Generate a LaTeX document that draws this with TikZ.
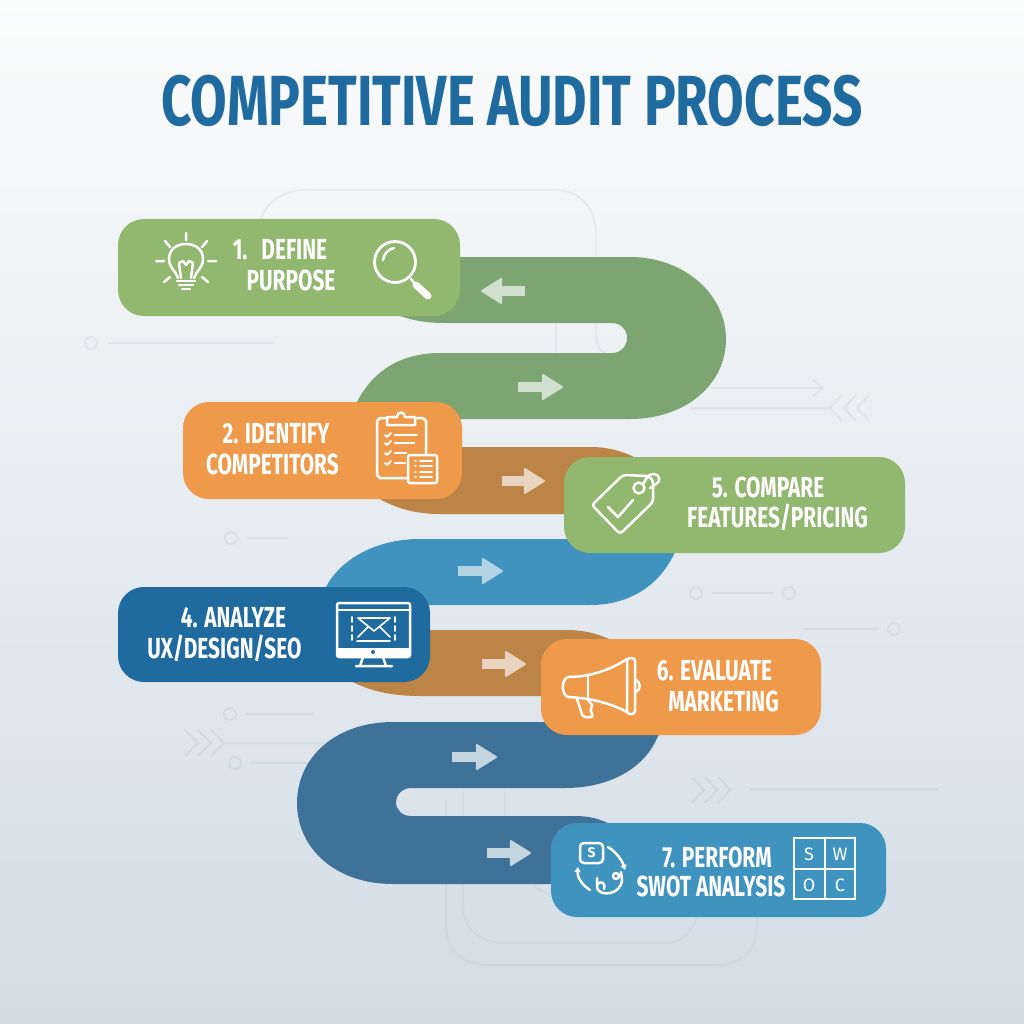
\documentclass[tikz,border=0pt]{standalone}
\usepackage{fontspec}
\usetikzlibrary{arrows.meta}
\setmainfont{Fira Sans}
\newfontfamily\titlefont[FakeStretch=0.747]{Fira Sans}
\newfontfamily\labelfont[FakeStretch=0.72]{Fira Sans}
\definecolor{boxgreen}{HTML}{92B76F}
\definecolor{boxorange}{HTML}{EE9A4A}
\definecolor{boxnavy}{HTML}{1F6A9E}
\definecolor{boxblue}{HTML}{3F93BF}
\definecolor{bandgreen}{HTML}{7DA572}
\definecolor{bandbrown}{HTML}{BC8447}
\definecolor{bandblue}{HTML}{3F93BE}
\definecolor{bandnavy}{HTML}{3F7299}
\definecolor{faintline}{HTML}{1F3F60}
\definecolor{skytop}{HTML}{FBFCFC}
\definecolor{skymid}{HTML}{E8EDF2}
\definecolor{skylow}{HTML}{D2DCE5}
\edef\cornersize{26pt}
\tikzstyle{stepbox}=[rounded corners=\cornersize,inner sep=0pt]
\tikzstyle{stepline}=[text=white,inner sep=0pt,font=\labelfont\bfseries\fontsize{29}{29}\selectfont]
\tikzstyle{gridletter}=[text=white,inner sep=0pt,font=\fontsize{18}{18}\selectfont]
\tikzstyle{glyph}=[draw=white,line width=2.5pt,line cap=round,line join=round]
\tikzstyle{bandarrow}=[line width=9.5pt,-{Triangle[length=22pt,width=27pt,round,line width=2pt]}]
\tikzstyle{faint}=[draw=faintline,draw opacity=0.06,line width=2pt]
\begin{document}
\begin{tikzpicture}[x=1pt,y=-1pt]
	\useasboundingbox (0,0) rectangle (1024,1024);
	\shade[top color=skytop,middle color=skymid,bottom color=skylow] (0,0) rectangle (1024,1024);

	% faint background marks
	\draw[faint] (259,232) .. controls (259,208) and (278,190) .. (305,190) -- (555,190) .. controls (580,190) and (596,208) .. (596,235) -- (596,335) .. controls (596,345) and (600,352) .. (606,353);
	\draw[faint] (556,323) -- (556,353);
	\draw[faint,draw opacity=0.04] (446,800) -- (446,925) .. controls (446,950) and (462,965) .. (488,965) -- (715,965) .. controls (742,965) and (757,950) .. (757,925) -- (757,915);
	\draw[faint,draw opacity=0.04] (463,790) -- (463,905) .. controls (463,930) and (480,943) .. (505,943) -- (665,943) .. controls (682,943) and (692,932) .. (697,917);
	\draw[faint,draw opacity=0.04] (505,790) -- (505,816);
	\draw[faint,draw opacity=0.04] (533,885) .. controls (538,890) and (544,893) .. (551,893);
	\draw[faint] (91,343) circle (6);
	\draw[faint] (108,343) -- (274,343);
	\draw[faint] (710,388) -- (822,388) (813,380) -- (823,388) -- (813,396);
	\draw[faint] (690,408) -- (830,408) (842,395) -- (830,408) -- (842,421) (856,395) -- (844,408) -- (856,421) (869,395) -- (857,408) -- (869,421);
	\draw[faint] (231,538) circle (6);
	\draw[faint] (247,538) -- (288,538);
	\draw[faint] (696,593) circle (6);
	\draw[faint] (712,593) -- (773,593);
	\draw[faint] (789,593) circle (6);
	\draw[faint] (803,629) -- (878,629);
	\draw[faint] (894,629) circle (6);
	\draw[faint] (230,714) circle (6);
	\draw[faint] (245,714) -- (313,714);
	\draw[faint] (185,730) -- (198,743) -- (185,756) (198,730) -- (211,743) -- (198,756) (211,730) -- (224,743) -- (211,756) (224,743) -- (330,743);
	\draw[faint] (235,763) circle (6);
	\draw[faint] (250,763) -- (310,763);
	\draw[faint] (692,777) -- (704,790) -- (692,803) (705,777) -- (717,790) -- (705,803) (718,777) -- (730,790) -- (718,803);
	\draw[faint] (750,789) -- (938,789);

	% bands
	\fill[bandgreen] (440,257) -- (630,257) .. controls (685,257) and (726,295) .. (726,339) .. controls (726,385) and (685,419) .. (630,419) -- (400,419) -- (357,402) .. controls (372,372) and (400,353) .. (440,353) -- (612,353) .. controls (621,353) and (627,346) .. (627,338) .. controls (627,330) and (621,323) .. (612,323) -- (445,323) .. controls (425,323) and (410,320) .. (395,314) -- (395,257) -- cycle;
	\fill[bandbrown] (400,447) -- (590,447) .. controls (610,447) and (625,452) .. (640,460) -- (640,514) -- (440,514) .. controls (415,514) and (395,508) .. (378,498) -- (378,447) -- cycle;
	\fill[bandblue] (420,539) -- (620,539) -- (680,545) -- (675,552) .. controls (660,585) and (630,605) .. (590,605) -- (380,605) -- (380,587) -- (326,587) .. controls (340,560) and (375,539) .. (420,539) -- cycle;
	\fill[bandbrown] (400,630) -- (565,630) .. controls (585,630) and (600,634) .. (615,642) -- (615,696) -- (420,696) .. controls (395,696) and (372,692) .. (353,682) -- (353,630) -- cycle;
	\fill[bandnavy] (393,722) -- (600,722) -- (665,730) -- (658,736) .. controls (645,768) and (610,788) .. (565,788) -- (411,788) .. controls (402,788) and (396,795) .. (396,802) .. controls (396,810) and (402,816) .. (411,816) -- (575,816) .. controls (590,816) and (600,819) .. (612,825) -- (612,884) -- (393,884) .. controls (335,884) and (297,848) .. (297,803) .. controls (297,758) and (335,722) .. (393,722) -- cycle;

	% arrows on the bands
	\coordinate (back1) at (525,291); \coordinate (tip1) at (481,291);
	\coordinate (back2) at (518,387); \coordinate (tip2) at (563,387);
	\coordinate (back3) at (502,481); \coordinate (tip3) at (545,481);
	\coordinate (back4) at (458,571); \coordinate (tip4) at (503,571);
	\coordinate (back5) at (482,664); \coordinate (tip5) at (526,664);
	\coordinate (back6) at (452,757); \coordinate (tip6) at (497,757);
	\coordinate (back7) at (487,853); \coordinate (tip7) at (531,853);
	\draw[bandarrow,color=white!65!bandgreen] (back1) -- (tip1);
	\draw[bandarrow,color=white!65!bandgreen] (back2) -- (tip2);
	\draw[bandarrow,color=white!65!bandbrown] (back3) -- (tip3);
	\draw[bandarrow,color=white!60!bandblue] (back4) -- (tip4);
	\draw[bandarrow,color=white!65!bandbrown] (back5) -- (tip5);
	\draw[bandarrow,color=white!70!bandnavy] (back6) -- (tip6);
	\draw[bandarrow,color=white!70!bandnavy] (back7) -- (tip7);

	% step boxes
	\node[stepbox,fill=boxgreen,minimum width=342pt,minimum height=97pt] (purpose) at (289,267.5) {};
	\node[stepbox,fill=boxorange,minimum width=279pt,minimum height=97pt] (rivals) at (322.5,450.5) {};
	\node[stepbox,fill=boxgreen,minimum width=341pt,minimum height=96pt] (pricing) at (734.5,505) {};
	\node[stepbox,fill=boxnavy,minimum width=312pt,minimum height=95pt] (design) at (274,634.5) {};
	\node[stepbox,fill=boxorange,minimum width=280pt,minimum height=96pt] (marketing) at (681,687) {};
	\node[stepbox,fill=boxblue,minimum width=335pt,minimum height=94pt] (swot) at (718.5,870) {};

	% texts
	\node[stepline] (purposea) at (280,250) {1.\hspace{14pt}DEFINE};
	\node[stepline] (purposeb) at (291,280) {PURPOSE};
	\node[stepline] (rivalsa) at (276,434) {2. IDENTIFY};
	\node[stepline] (rivalsb) at (272.5,464) {COMPETITORS};
	\node[stepline] (pricinga) at (768,487) {5. COMPARE};
	\node[stepline] (pricingb) at (777.5,517) {FEATURES/PRICING};
	\node[stepline] (designa) at (233.5,618) {4. ANALYZE};
	\node[stepline] (designb) at (224.5,648) {UX/DESIGN/SEO};
	\node[stepline] (marketinga) at (714.5,671) {6. EVALUATE};
	\node[stepline] (marketingb) at (723.5,701) {MARKETING};
	\node[stepline] (swota) at (717,857) {7. PERFORM};
	\node[stepline] (swotb) at (711,886) {SWOT ANALYSIS};
	\node[text=boxnavy,inner sep=0pt,font=\titlefont\bfseries\fontsize{71}{71}\selectfont] (title) at (512,101) {COMPETITIVE AUDIT PROCESS};

	% bulb
	\begin{scope}[shift={(186,261)}]
		\draw[glyph] (-8,17) .. controls (-10,10) and (-17,7) .. (-17,-2) .. controls (-17,-12) and (-9,-17) .. (0,-17) .. controls (9,-17) and (17,-12) .. (17,-2) .. controls (17,7) and (10,10) .. (8,17);
		\draw[glyph] (-5,17) -- (-7,2) -- (-3,0) -- (0,4) -- (3,0) -- (7,2) -- (5,17);
		\draw[glyph] (-9,20) -- (9,20) (-7,24) -- (7,24) (-4,28) -- (4,28);
		\draw[glyph] (0,-28) -- (0,-21) (-30,0) -- (-22,0) (22,0) -- (30,0) (-21,-20) -- (-16,-14) (21,-20) -- (16,-14) (-22,21) -- (-16,16) (22,21) -- (16,16);
	\end{scope}

	% magnifier
	\draw[glyph,line width=2.8pt] (395,262) circle (20.5);
	\draw[glyph] (383,260) .. controls (384,254) and (388,249) .. (394,248);
	\draw[glyph] (411,279) -- (415,284);
	\draw[glyph,line width=7pt] (416,285) -- (428,296);

	% clipboard
	\draw[glyph] (387,418) -- (380,418) -- (377,421) -- (377,475) -- (380,478) -- (408,478);
	\draw[glyph] (415,418) -- (423,418) -- (426,421) -- (426,455);
	\draw[glyph] (387,425) -- (415,425) -- (415,417) -- (405,417) .. controls (405,411) and (397,411) .. (397,417) -- (387,417) -- cycle;
	\draw[glyph,line width=1.8pt] (385,435) -- (387,437) -- (391,433) (385,443) -- (387,445) -- (391,441) (385,453) -- (387,455) -- (391,451) (385,463) -- (387,465) -- (391,461);
	\draw[glyph] (395,435) -- (417,435) (395,443) -- (414,443) (395,453) -- (406,453) (395,463) -- (405,463);
	\draw[glyph,fill=boxorange,rounded corners=2pt] (408,455) rectangle (437,483);
	\draw[glyph,line width=1.8pt] (415,461) -- (416,461) (420,461) -- (432,461) (415,466) -- (416,466) (420,466) -- (432,466) (415,472) -- (416,472) (420,472) -- (432,472) (415,477) -- (416,477) (420,477) -- (432,477);

	% tag
	\draw[glyph,rounded corners=3pt] (623,475) -- (592,505) -- (620,534) -- (653,502) -- (653,480) -- (648,476) -- cycle;
	\draw[glyph] (639,488) circle (5.5);
	\draw[glyph] (643,484) .. controls (646,480) and (647,474) .. (654,474) .. controls (660,474) and (661,482) .. (656,484) -- (650,488);
	\draw[glyph] (608,507) -- (618,517) -- (633,500);

	% monitor
	\draw[glyph,rounded corners=2pt] (337,603) rectangle (410,657);
	\fill[white,rounded corners=2pt] (337,648) rectangle (410,657);
	\fill[boxnavy] (373,652) circle (2);
	\draw[glyph,line width=1.6pt] (337,610) -- (410,610);
	\draw[glyph,line width=1.6pt] (358,618) -- (390,618) (358,618) -- (374,631) -- (390,618) (358,637) -- (368,627) (390,637) -- (380,627);
	\draw[glyph,line width=1.8pt,dash pattern=on 5pt off 4pt] (352,617) -- (352,640) (395,617) -- (395,640);
	\draw[glyph,line width=1.8pt] (357,641) -- (390,641);
	\draw[glyph] (363,657) -- (360,666) (383,657) -- (386,666) (356,666) -- (392,666);

	% megaphone
	\draw[glyph] (568,677) .. controls (590,677) and (610,670) .. (627,659);
	\draw[glyph] (568,697) .. controls (590,698) and (610,703) .. (627,712);
	\draw[glyph] (568,677) .. controls (561,680) and (561,694) .. (568,697);
	\draw[glyph,rounded corners=3pt] (627,658) -- (627,714) -- (635,714) -- (635,658) -- cycle;
	\draw[glyph] (588,675) -- (588,700);
	\draw[glyph] (636,680) .. controls (641,683) and (641,689) .. (636,692);
	\draw[glyph,rounded corners=2pt] (577,699) -- (583,717) -- (593,717) -- (590,708) -- (593,706) -- (588,700);

	% swot cycle
	\draw[glyph,rounded corners=4pt] (580,843) rectangle (603,863);
	\node[text=white,inner sep=0pt,font=\bfseries\fontsize{14}{14}\selectfont] (sletter) at (591.5,853) {S};
	\draw[glyph,-{Triangle[length=5pt,width=6pt]}] (608,847) .. controls (616,852) and (622,860) .. (625,870);
	\draw[glyph,-{Triangle[length=5pt,width=6pt]}] (590,890) .. controls (582,885) and (577,877) .. (578,867);
	\draw[glyph] (597,878) -- (597,888) .. controls (600,897) and (621,895) .. (622,880) -- (621,872);
	\draw[glyph] (616,876) circle (3);
	\draw[glyph] (597,884) .. controls (602,880) and (606,884) .. (604,889);

	% swot grid
	\draw[glyph,line width=2.8pt,line cap=butt,line join=miter] (794,838) rectangle (855,899);
	\draw[glyph,line width=2.8pt,line cap=butt] (825,838) -- (825,899) (794,869) -- (855,869);
	\node[gridletter] (sgrid) at (809,854) {S};
	\node[gridletter] (wgrid) at (840,854) {W};
	\node[gridletter] (ogrid) at (809,885) {O};
	\node[gridletter] (cgrid) at (840,885) {C};
\end{tikzpicture}
\end{document}
